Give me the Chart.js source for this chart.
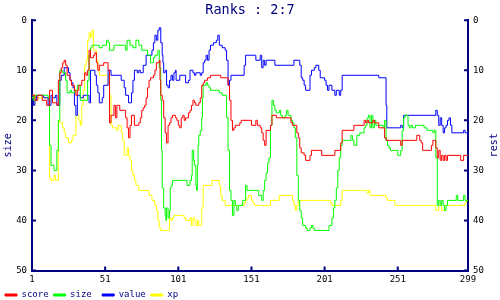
<!DOCTYPE html>
<html>
<head>
<meta charset="utf-8">
<script src="https://cdn.jsdelivr.net/npm/chart.js@4.4.1/dist/chart.umd.min.js"></script>
<style>
  html, body { margin: 0; padding: 0; background: #fff; overflow: hidden; }
</style>
</head>
<body>
<canvas id="chart" width="500" height="300"></canvas>
<script>
const navy = "#000080";
const xTicks = [1, 51, 101, 151, 201, 251, 299];
const yTicks = [0, 10, 20, 30, 40, 50];

// [step, rank] - a rank holds until the next pair
const score = [[1,15],[3,16],[5,15],[8,16],[11,17],[13,14],[15,16.5],[18,17],[19,12],[20,10.5],[21,9.5],[22,8.5],[23,8],[24,9],[25,11],[27,12],[28,13],[30,14],[31,15],[32,14],[33,13],[35,12],[37,10.5],[38,11],[39,10],[40,6],[41,7.5],[43,7],[44,6.5],[45,8.5],[46,10],[47,9],[50,8.5],[53,10],[54,20.5],[55,19],[57,17],[58,19.5],[59,17],[61,18],[65,19.5],[66,21.5],[67,23.5],[68,21],[69,19],[71,21],[74,20.5],[75,19.5],[76,18],[77,17.5],[78,17],[79,15.5],[80,13.5],[81,12],[82,11.5],[84,11],[85,10],[86,8.5],[88,8],[88.5,12],[89,15],[90,16],[91,19.5],[92,22.5],[93,24.5],[94,21],[95,20.5],[96,19.5],[97,19],[99,19.5],[100,20],[101,21],[102,21.5],[103,19.5],[104,19],[105,20],[106,19.5],[108,18.5],[109,18],[110,17],[111,16],[112,16.5],[113,17],[115,16.5],[116,15.5],[117,13],[118,12.5],[119,12],[121,11.5],[123,11],[130,11.5],[135,13],[136,16],[137,20],[138,22],[139,21.5],[140,21],[143,20.5],[144,20],[151,21],[154,20],[155,21],[157,21.5],[158,22.5],[159,24],[160,25],[161,22],[164,21],[165,19],[168,19.5],[178,20.5],[179,21],[182,22.5],[183,23.5],[184,25.5],[185,26.5],[187,27],[188,28],[191,27],[192,26],[199,27],[208,26],[212,24.5],[213,22],[221,21],[228,20],[229,20.5],[230,20],[231,20.5],[234,20],[235,20.5],[238,21.5],[242,23.5],[243,24],[253,25],[254,24],[264,23],[266,24],[267,24.5],[268,26],[274,25],[275,24],[277,25.5],[278,27.5],[279,26],[280,28],[281,27],[282,28],[283,27],[284,28],[285,27],[294,28],[296,27],[299,27]];

const size = [[1,15],[2,16],[3,15],[12,15.5],[13,25],[14,29],[16,30],[18,26],[19,20],[20,10],[22,10.5],[24,12],[25,14.5],[27,14],[28,14.5],[30,14],[32,13],[34,16],[39,12],[40,7],[41,5.5],[42,5],[47,5.5],[49,5],[52,4],[53,4.5],[54,6],[57,5],[65,6],[66,4],[68,5],[70,5.5],[72,4],[74,5],[76,6],[80,7],[82,8.5],[84,7.5],[85,7],[87,6],[88,9.5],[89,16],[89.5,26],[90,33.5],[91,37.5],[92,39],[92.5,40],[93,37.5],[94,39.5],[95,38],[95.5,33.5],[96,33],[97,32],[107,33],[109,32],[110,31],[110.5,26],[111.5,28],[112,29],[113,33],[113.5,34],[114,29],[114.5,25],[115,23],[116,22],[117,19.5],[117.5,15.5],[118,13],[120,12.5],[121,13],[122,13.5],[123,14],[129,14.5],[131,15],[134,19.5],[135,26],[136,34],[137,36],[138,39],[139,36],[140,37],[141,38],[142,37],[145,36],[147,33],[148,34],[156,35],[158,36],[159,34],[160,32],[161,30.5],[162,28.5],[163,27.5],[164,21],[165,16],[166,17],[167,18],[168,18.5],[170,18],[171,19],[172,19.5],[174,19],[175,18],[176,19],[178,20],[179,20.5],[180,21.5],[181,23.5],[182,31],[183,36],[184,38],[185,39.5],[186,41],[188,41.5],[189,42],[191,41.5],[192,41],[193,41.5],[194,42],[204,41],[206,39.5],[207,37.5],[208,36],[209,33.5],[210,30],[211,27.5],[212,25],[213,24],[219,23],[220,24],[221,25],[223,23],[225,22.5],[228,21.5],[229,21],[230,19.5],[231,19],[232,21.5],[233,19],[234,21.5],[235,20],[236,21],[241,21.5],[242,20],[243,24],[244,25],[245,25.5],[246,26],[251,27],[253,26],[254,22],[255,19.5],[256,19],[258,21],[259,21.5],[260,21],[261,21.5],[263,21],[269,21.5],[271,22],[275,22.5],[276,22],[277,27.5],[278,37],[279,36],[280,37],[281,36],[282,37],[283,38],[284,37],[285,36],[291,35],[292,36],[296,35],[297,36],[299,36]];

const value = [[1,15],[2,17],[3,16],[4,15],[9,15.5],[12,17],[14,15],[15,15.5],[17,15],[18,17],[20,12],[21,11],[23,9.5],[26,10.5],[27,12],[28,12.5],[29,13.5],[30,17],[31,19],[32,15],[34,15.5],[36,15],[40,16.5],[41,10],[44,11],[45,13],[46,14.5],[47,16.5],[49,15.5],[50,13],[53,10],[55,11],[62,12],[64,13.5],[65,15],[67,16.5],[69,14.5],[70,12],[71,10],[73,10.5],[74,10],[75,10.5],[77,9],[79,7],[83,6],[84,4.5],[85,3],[86,4],[87,2],[88,1.5],[89,4.5],[90,7],[90.5,8.5],[91,10.5],[92,10],[93,13],[94,13.5],[95,12],[96,11],[97,12],[98,10.5],[99,10],[99.5,12],[102,11],[106,12.5],[108,12],[109,10],[111,10.5],[112,11],[113,10.5],[116,11],[117,10.5],[118,8.5],[119,8],[120,7],[121,8],[122,6],[123,5],[125,4.5],[127,4],[128,3],[129,5],[131,5.5],[133,6],[134,8],[135,13],[136,12],[137,11],[146,9],[147,7],[154,8],[157,7],[158,9.5],[159,8],[160,9],[161,8],[167,9],[180,8],[184,9],[185,11.5],[186,12],[187,13],[188,14],[191,11],[192,10],[194,9.5],[195,9],[197,10],[198,11.5],[201,12],[202,13],[203,14],[204,13],[206,14],[208,15],[209,14],[211,15],[212,14],[213,11],[238,11.5],[243,17],[243.5,21.5],[253,21],[254,21.5],[255,19],[277,18],[278,19],[279,21],[280,19.5],[281,21],[282,22.5],[283,21.5],[284,21],[285,20],[286,19.5],[287,21],[288,22.5],[296,22],[297,22.5],[299,23]];

const xp = [[1,15.5],[2,17],[3,15],[4,15.5],[12,16],[13,31.5],[14,32],[16,31],[17,32],[19,20],[20,20.5],[22,21.5],[23,22.5],[24,23.5],[26,24.5],[28,24],[29,23],[31,19],[33,20],[34,21],[35,17],[36,14],[37,9],[38,8],[39,4],[40,2.5],[41,3.5],[42,2],[43,6],[45,8],[46,10],[47,11],[53,13],[54,15],[55,21],[56,21.5],[59,22],[60,21],[62,22.5],[63,24],[64,27],[66,25.5],[67,27],[68,28],[69,30],[70,31],[71,32],[72,33],[74,34],[81,35],[83,36],[85,37],[86,38],[87,40],[88,41.5],[89,42],[95,39.5],[96,40],[97,39.5],[98,39],[105,39.5],[106,40],[109,39.5],[110,41],[111,39.5],[112,40],[113,41],[114,40],[115,41],[117,37.5],[118,33],[124,32],[129,33],[130,35],[131,36],[133,37],[146,36.5],[147,36],[148,35.5],[149,35],[151,36],[152,36.5],[153,37],[164,36],[170,35],[179,36],[180,37],[181,38],[182,37],[183,36],[205,36.5],[206,37],[212,36],[213,34],[230,34.5],[231,34],[232,35],[243,35.5],[244,36],[249,37],[277,38],[279,37],[281,38],[283,37],[297,36.5],[298,36],[299,36]];

Chart.defaults.font.family = "'DejaVu Sans Mono', monospace";

function series(label, points, color) {
  return {
    label: label,
    data: points.map(p => ({ x: p[0], y: p[1] })),
    borderColor: color,
    backgroundColor: color,
    borderWidth: 1,
    pointRadius: 0,
    stepped: true,
    yAxisID: "y",
  };
}

// inward tick marks and the right-hand axis title (reads bottom-to-top)
const tickMarks = {
  id: "tickMarks",
  afterDraw(chart) {
    const { ctx, chartArea: a, scales } = chart;
    ctx.save();
    ctx.strokeStyle = navy;
    ctx.lineWidth = 2;
    ctx.beginPath();
    yTicks.forEach(v => {
      const y = scales.y.getPixelForValue(v);
      ctx.moveTo(a.left, y); ctx.lineTo(a.left + 4, y);
      ctx.moveTo(a.right, y); ctx.lineTo(a.right - 4, y);
    });
    xTicks.forEach(v => {
      const x = scales.x.getPixelForValue(v);
      ctx.moveTo(x, a.bottom); ctx.lineTo(x, a.bottom - 4);
    });
    ctx.stroke();
    ctx.fillStyle = navy;
    ctx.font = "10px 'DejaVu Sans Mono'";
    ctx.textAlign = "center";
    ctx.textBaseline = "middle";
    ctx.translate(chart.width - 6, (a.top + a.bottom) / 2);
    ctx.rotate(-Math.PI / 2);
    ctx.fillText("rest", 0, 0);
    ctx.restore();
  },
};

const yAxis = (pos) => ({
  position: pos,
  reverse: true,
  min: 0,
  max: 50,
  afterBuildTicks: s => { s.ticks = yTicks.map(v => ({ value: v })); },
  afterFit: s => { s.width = 32; },
  grid: { display: false, drawTicks: false },
  border: { color: navy, width: 2 },
  ticks: { color: "#000", font: { size: 9 }, padding: 5 },
});

const ctx = document.getElementById("chart").getContext("2d");
const myChart = new Chart(ctx, {
  type: "line",
  data: {
    datasets: [
      series("score", score, "#ff0000"),
      series("size", size, "#00ff00"),
      series("value", value, "#0000ff"),
      series("xp", xp, "#ffff00"),
    ],
  },
  options: {
    responsive: false,
    animation: false,
    devicePixelRatio: 1,
    scales: {
      x: {
        type: "linear",
        min: 1,
        max: 299,
        afterBuildTicks: s => { s.ticks = xTicks.map(v => ({ value: v })); },
        afterFit: s => { s.height = 15; },
        grid: { display: false, drawTicks: false },
        border: { color: navy, width: 2 },
        ticks: { color: "#000", font: { size: 9 }, padding: 4, autoSkip: false, maxRotation: 0 },
      },
      y: Object.assign(yAxis("left"), {
        title: { display: true, text: "size", color: navy, font: { size: 10 }, padding: { top: 2, bottom: 0 } },
      }),
      y2: yAxis("right"),
    },
    plugins: {
      title: {
        display: true,
        text: "Ranks : 2:7",
        color: navy,
        font: { size: 13.5, weight: "normal" },
        padding: { top: 2, bottom: 2 },
      },
      legend: {
        position: "bottom",
        align: "start",
        maxHeight: 14.5,
        labels: {
          boxWidth: 12,
          boxHeight: 2,
          padding: 5,
          color: navy,
          font: { size: 9 },
          generateLabels: chart =>
            Chart.defaults.plugins.legend.labels.generateLabels(chart)
              .map(l => Object.assign(l, { text: l.text.padEnd(5) })),
        },
      },
      tooltip: { enabled: false },
    },
  },
  plugins: [tickMarks],
});
</script>
</body>
</html>
